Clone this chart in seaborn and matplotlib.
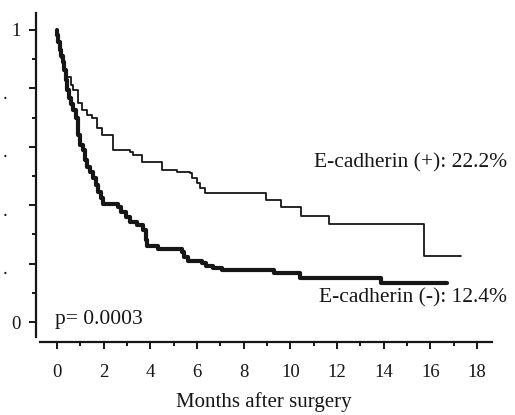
"""Kaplan-Meier curves by E-cadherin status."""

import matplotlib
matplotlib.use("Agg")
import matplotlib.pyplot as plt
import matplotlib.transforms as mtransforms
import pandas as pd
import seaborn as sns


# E-cadherin (+): step times (months) and survival after each step
POS_MONTHS = [0.0, 0.02, 0.07, 0.13, 0.19, 0.25, 0.30, 0.36, 0.60, 0.68, 0.90,
              1.07, 1.29, 1.50, 1.71, 1.93, 2.40, 3.13, 3.26, 3.64, 4.50,
              5.14, 5.70, 5.79, 6.00, 6.13, 6.34, 8.96, 9.60, 10.46, 11.66,
              15.73, 17.32]
POS_SURV = [1.0, 0.983, 0.955, 0.93, 0.905, 0.88, 0.86, 0.84, 0.81, 0.795, 0.75,
            0.726, 0.71, 0.70, 0.664, 0.64, 0.59, 0.582, 0.572, 0.548, 0.52,
            0.514, 0.51, 0.493, 0.476, 0.459, 0.442, 0.418, 0.394, 0.363, 0.336,
            0.226, 0.226]

# E-cadherin (-)
NEG_MONTHS = [0.0, 0.02, 0.06, 0.13, 0.19, 0.26, 0.32, 0.39, 0.43, 0.51, 0.60,
              0.69, 0.81, 0.90, 0.99, 1.11, 1.20, 1.29, 1.41, 1.54, 1.67,
              1.76, 1.89, 1.97, 2.61, 2.74, 2.96, 3.13, 3.43, 3.69, 3.81,
              3.86, 4.33, 5.36, 5.44, 5.61, 6.22, 6.39, 6.69, 7.07, 9.30,
              10.42, 13.89, 16.72]
NEG_SURV = [1.0, 0.983, 0.959, 0.93, 0.91, 0.89, 0.863, 0.829, 0.795, 0.767, 0.747,
            0.726, 0.699, 0.64, 0.606, 0.589, 0.555, 0.531, 0.514, 0.493, 0.469,
            0.445, 0.425, 0.404, 0.394, 0.377, 0.36, 0.342, 0.332, 0.315, 0.281,
            0.26, 0.25, 0.24, 0.223, 0.209, 0.202, 0.192, 0.185, 0.178, 0.168,
            0.151, 0.134, 0.134]

X_TICKS = [0, 2, 4, 6, 8, 10, 12, 14, 16, 18]
POS_LABEL = "E-cadherin (+): 22.2%"
NEG_LABEL = "E-cadherin (-): 12.4%"
P_LABEL = "p= 0.0003"


def main() -> None:
    sns.set_style("ticks")
    plt.rcParams["font.family"] = ["Liberation Serif", "DejaVu Serif"]

    pos = pd.DataFrame({"months": POS_MONTHS, "survival": POS_SURV})
    neg = pd.DataFrame({"months": NEG_MONTHS, "survival": NEG_SURV})

    fig = plt.figure(figsize=(5.15, 4.15), dpi=100)
    ax = fig.add_axes([36 / 515, 73 / 415, 456 / 515, 329 / 415])

    ink = "#161616"
    sns.lineplot(data=pos, x="months", y="survival", ax=ax, drawstyle="steps-post",
                 estimator=None, color=ink, linewidth=1.3)
    sns.lineplot(data=neg, x="months", y="survival", ax=ax, drawstyle="steps-post",
                 estimator=None, color=ink, linewidth=3.0)

    ax.set_xlim(-0.9, 18.645)
    ax.set_ylim(-0.068, 1.058)
    for side in ("top", "right"):
        ax.spines[side].set_visible(False)
    ax.spines["left"].set_bounds(-0.051, 1.058)
    ax.spines["bottom"].set_bounds(-0.73, 18.645)
    for side in ("left", "bottom"):
        ax.spines[side].set_color(ink)
        ax.spines[side].set_linewidth(1.6)

    ax.set_xticks(X_TICKS)
    ax.set_xticks(range(0, 19), minor=True)
    ax.set_xticklabels([str(t) for t in X_TICKS])
    ax.set_yticks([0, 0.2, 0.4, 0.6, 0.8, 1.0])
    ax.set_yticks([0.1, 0.3, 0.5, 0.7, 0.9], minor=True)
    ax.set_yticklabels(["0", "", "", "", "", "1"])
    ax.tick_params(axis="both", which="major", length=5, width=1.4, color=ink,
                   labelsize=13.5, labelcolor=ink)
    ax.tick_params(axis="both", which="minor", length=3, width=1.4, color=ink)
    ax.tick_params(axis="x", which="major", pad=11)
    ax.tick_params(axis="y", which="major", pad=6)

    # stray dots left of the y axis, as in the scan
    dot_tf = mtransforms.blended_transform_factory(fig.transFigure, ax.transData)
    for v in (0.8, 0.6, 0.4, 0.2):
        ax.text(5 / 515, v - 0.036, ".", transform=dot_tf, ha="center",
                va="baseline", fontsize=13.5, color=ink)

    ax.set_xlabel("Months after surgery", fontsize=15, color=ink, labelpad=8)
    ax.set_ylabel("")

    ax.text(19.29, 0.545, POS_LABEL, ha="right", va="center", fontsize=15.5, color=ink)
    ax.text(19.29, 0.082, NEG_LABEL, ha="right", va="center", fontsize=15.5, color=ink)
    ax.text(-0.09, 0.01, P_LABEL, ha="left", va="center", fontsize=15.5, color=ink)

    fig.savefig("out.png", dpi=100, facecolor="white")
    plt.close(fig)


if __name__ == "__main__":
    main()
